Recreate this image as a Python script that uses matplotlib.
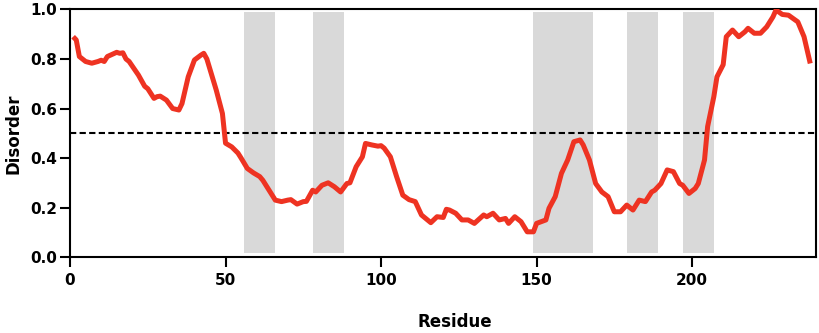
import matplotlib
matplotlib.use("Agg")
import matplotlib.pyplot as plt

residue = [1, 2, 3, 5, 7, 9, 10, 11, 12, 15, 16, 17, 18, 19, 22, 24, 25, 27, 28, 29,
           31, 33, 35, 36, 38, 40, 42, 43, 44, 47, 49, 50, 52, 54, 55, 57, 59, 61, 62, 64,
           66, 68, 70, 71, 73, 75, 76, 78, 79, 81, 83, 85, 87, 89, 90, 92, 94, 95, 97, 99,
           100, 101, 103, 105, 107, 109, 111, 113, 116, 118, 120, 121, 122, 124, 126, 128, 130, 133, 134, 136,
           138, 140, 141, 143, 145, 147, 149, 150, 153, 154, 156, 158, 160, 162, 164, 165, 167, 169, 171, 173,
           175, 177, 179, 181, 183, 185, 187, 188, 190, 192, 194, 196, 197, 199, 201, 202, 204, 205, 207, 208,
           210, 211, 213, 215, 217, 218, 220, 222, 224, 226, 227, 229, 231, 234, 236, 238]
disorder = [0.89, 0.877, 0.81, 0.79, 0.783, 0.79, 0.795, 0.79, 0.81, 0.827, 0.823, 0.825, 0.80, 0.79, 0.735, 0.69, 0.68, 0.641, 0.648, 0.65,
            0.634, 0.60, 0.594, 0.62, 0.728, 0.796, 0.815, 0.823, 0.80, 0.675, 0.58, 0.46, 0.445, 0.42, 0.40, 0.358, 0.34, 0.325, 0.31, 0.27,
            0.23, 0.224, 0.23, 0.232, 0.214, 0.224, 0.225, 0.27, 0.263, 0.29, 0.30, 0.284, 0.263, 0.297, 0.30, 0.365, 0.405, 0.459, 0.453, 0.448,
            0.45, 0.44, 0.405, 0.325, 0.25, 0.232, 0.224, 0.17, 0.139, 0.163, 0.16, 0.193, 0.19, 0.177, 0.15, 0.15, 0.136, 0.17, 0.163, 0.177,
            0.15, 0.156, 0.136, 0.163, 0.143, 0.102, 0.102, 0.136, 0.15, 0.197, 0.244, 0.338, 0.392, 0.466, 0.473, 0.453, 0.392, 0.297, 0.263, 0.244,
            0.183, 0.183, 0.21, 0.19, 0.23, 0.224, 0.263, 0.27, 0.297, 0.352, 0.345, 0.297, 0.29, 0.257, 0.277, 0.297, 0.392, 0.527, 0.648, 0.728,
            0.777, 0.89, 0.917, 0.89, 0.91, 0.924, 0.904, 0.904, 0.93, 0.97, 0.998, 0.98, 0.977, 0.95, 0.89, 0.782]

regions = [(56, 66), (78, 88), (149, 168), (179, 189), (197, 207)]
threshold = 0.5
xticks = [0, 50, 100, 150, 200]
yticks = [0.0, 0.2, 0.4, 0.6, 0.8, 1.0]

plt.rcParams['font.family'] = ['DejaVu Sans']
plt.rcParams['font.weight'] = 'bold'

fig = plt.figure(figsize=(8.2, 3.33), dpi=100)
ax = fig.add_axes([0.0854, 0.228, 0.9103, 0.7435])

for a, b in regions:
    ax.axvspan(a, b, ymin=0.018, ymax=0.99, color='#d9d9d9', lw=0, zorder=0)

ax.axhline(threshold, color='black', lw=1.5, dashes=(3, 1.6), zorder=2)
ax.plot(residue, disorder, color='#ee3322', lw=3.6, solid_joinstyle='round',
        solid_capstyle='butt', zorder=3)

ax.set_xlim(0, 240)
ax.set_ylim(0, 1.0)
ax.set_xticks(xticks)
ax.set_yticks(yticks)
ax.set_yticklabels([f"{v:.1f}" for v in yticks])

for s in ax.spines.values():
    s.set_linewidth(1.5)
ax.tick_params(axis='both', length=7, width=1.5, labelsize=11)
ax.tick_params(axis='x', pad=4.5)
ax.tick_params(axis='y', pad=2)
for lab in ax.get_xticklabels() + ax.get_yticklabels():
    lab.set_fontweight('bold')

ax.set_xlabel('Residue', fontsize=12, fontweight='bold', labelpad=17)
ax.xaxis.set_label_coords(0.515, -0.225)
ax.set_ylabel('Disorder', fontsize=12, fontweight='bold', labelpad=6)

fig.savefig('out.png', dpi=100)
